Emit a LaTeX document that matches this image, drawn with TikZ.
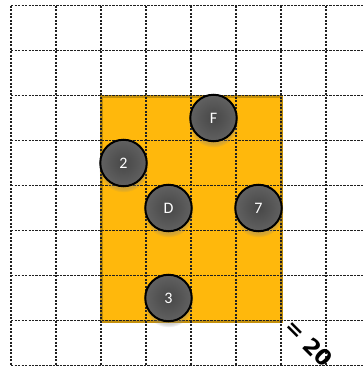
\documentclass[tikz,border=0pt]{standalone}
\usepackage{fontspec}
\setmainfont{Carlito}
\newfontfamily\labfont{DejaVu Sans}
\usetikzlibrary{shadows}
\definecolor{gold}{HTML}{FFB80C}
\definecolor{goldedge}{HTML}{C4900C}
\definecolor{gridc}{HTML}{202020}
\tikzset{
  gridline/.style={draw=gridc, line width=1.5pt, dash pattern=on 2.2pt off 1.3pt},
  stone/.style={circle, minimum size=46.5pt, inner sep=0pt, draw=black, line width=2pt,
    inner color=black!72, outer color=black!62, text=white, font=\fontsize{16}{16}\selectfont,
    circular drop shadow={shadow xshift=0pt, shadow yshift=-4pt, shadow scale=1.08, opacity=0.35}},
  zone/.style={fill=gold, draw=goldedge, line width=3pt}
}
\begin{document}
\begin{tikzpicture}[x=1pt,y=-1pt]
\useasboundingbox (0,0) rectangle (364,373);
\fill[white] (0,0) rectangle (364,373);
\fill[zone] (101,96) rectangle (281,321);
\foreach \k in {0,...,7} { \draw[gridline] (11+45*\k,5.7) -- (11+45*\k,365.7); }
\foreach \k in {0,...,8} { \draw[gridline] (11,5.7+45*\k) -- (364,5.7+45*\k); }
\node[stone] (s2) at (123.5,163) {2};
\node[stone] (sF) at (213.5,118) {F};
\node[stone] (sD) at (168.5,208) {D};
\node[stone] (s7) at (258.5,208) {7};
\node[stone] (s3) at (168.5,298) {3};
\node[rotate=-45, font=\labfont\bfseries\fontsize{22}{22}\selectfont] (lbl) at (309,343) {= 20};
\end{tikzpicture}
\end{document}
